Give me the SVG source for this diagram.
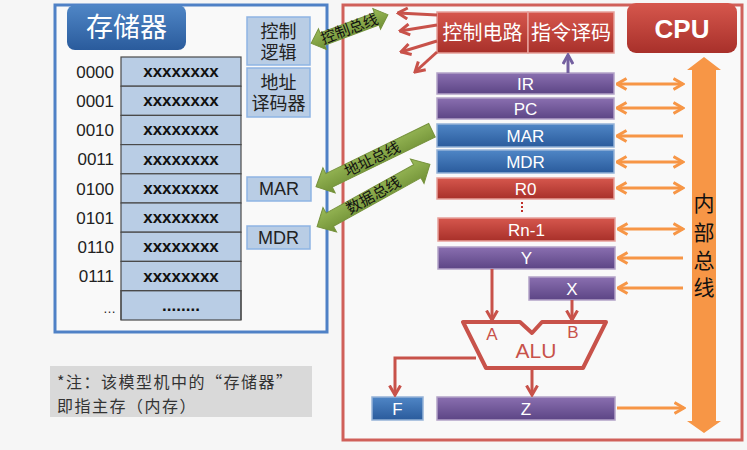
<svg xmlns="http://www.w3.org/2000/svg" width="747" height="450" viewBox="0 0 747 450">
<defs>
<linearGradient id="gBlue" x1="0" y1="0" x2="0" y2="1"><stop offset="0" stop-color="#4f86c6"/><stop offset="1" stop-color="#2a5b9c"/></linearGradient>
<linearGradient id="gPurple" x1="0" y1="0" x2="0" y2="1"><stop offset="0" stop-color="#8a6fb0"/><stop offset="1" stop-color="#5c4585"/></linearGradient>
<linearGradient id="gRed" x1="0" y1="0" x2="0" y2="1"><stop offset="0" stop-color="#d6574d"/><stop offset="1" stop-color="#a8302a"/></linearGradient>
<linearGradient id="gGreen" x1="0" y1="0" x2="0" y2="1"><stop offset="0" stop-color="#9bbb59"/><stop offset="1" stop-color="#6f8f35"/></linearGradient>
<marker id="mO" viewBox="0 0 12 14" markerUnits="userSpaceOnUse" markerWidth="12" markerHeight="14" refX="10.5" refY="7" orient="auto-start-reverse"><path d="M1,1.5 L10.5,7 L1,12.5" fill="none" stroke="#f79646" stroke-width="3"/></marker>
<marker id="mR" viewBox="0 0 12 14" markerUnits="userSpaceOnUse" markerWidth="12" markerHeight="14" refX="10.5" refY="7" orient="auto-start-reverse"><path d="M1,1.5 L10.5,7 L1,12.5" fill="none" stroke="#c8524a" stroke-width="3"/></marker>
<marker id="mP" viewBox="0 0 12 12" markerUnits="userSpaceOnUse" markerWidth="12" markerHeight="12" refX="10" refY="6" orient="auto"><path d="M1,1 L10,6 L1,11" fill="none" stroke="#7460a0" stroke-width="3"/></marker>
<style>
text{font-family:"Liberation Sans","Noto Sans CJK SC",sans-serif;}
.cell{fill:#b9cde5;stroke:#4a4a4a;stroke-width:1.2;}
.addr{font-size:17px;fill:#222;text-anchor:end;}
.xx{font-size:17px;font-weight:bold;fill:#111;text-anchor:middle;}
.lbox{fill:#b9cde5;stroke:#8eb4e3;stroke-width:1.5;}
.ltxt{font-size:18px;fill:#222;text-anchor:middle;}
.reg{stroke-width:1.5;}
.rp{fill:url(#gPurple);stroke:#b3a2c7;}
.rb{fill:url(#gBlue);stroke:#95b3d7;}
.rr{fill:url(#gRed);stroke:#e6a09a;}
.rt{font-size:17px;fill:#fff;text-anchor:middle;}
.rt20{font-size:20px;fill:#fff;text-anchor:middle;}
.oa{stroke:#f79646;stroke-width:3;fill:none;}
.ra{stroke:#c8524a;stroke-width:3;fill:none;}
.gb{fill:url(#gGreen);stroke:#76923c;stroke-width:1;}
.gt{font-size:15px;fill:#111;text-anchor:middle;}
.nt{font-family:"Noto Sans CJK SC",sans-serif;font-size:16px;letter-spacing:1.5px;fill:#333;}
.bus{font-size:21px;fill:#111;text-anchor:middle;}
</style>
</defs>
<rect width="747" height="450" fill="#f6f6f6"/>

<g id="memory">
<rect x="55" y="5" width="272" height="327" fill="#f9f9f9" stroke="#4f81c6" stroke-width="3"/>
<g id="memTitle"><rect x="67" y="5" width="119" height="45" rx="8" fill="url(#gBlue)"/><text x="126.5" y="37" font-size="27" fill="#fff" text-anchor="middle">存储器</text></g>
<g id="cells">
<rect class="cell" x="121" y="57" width="120" height="29.2"/>
<rect class="cell" x="121" y="86.2" width="120" height="29.2"/>
<rect class="cell" x="121" y="115.4" width="120" height="29.2"/>
<rect class="cell" x="121" y="144.6" width="120" height="29.2"/>
<rect class="cell" x="121" y="173.8" width="120" height="29.2"/>
<rect class="cell" x="121" y="203" width="120" height="29.2"/>
<rect class="cell" x="121" y="232.2" width="120" height="29.2"/>
<rect class="cell" x="121" y="261.4" width="120" height="29.2"/>
<rect class="cell" x="121" y="290.6" width="120" height="29.4" stroke="none"/>
<line x1="121" y1="290.6" x2="121" y2="320" stroke="#4a4a4a" stroke-width="1.2"/>
<line x1="241" y1="290.6" x2="241" y2="320" stroke="#4a4a4a" stroke-width="1.2"/>
<line x1="121" y1="290.6" x2="241" y2="290.6" stroke="#4a4a4a" stroke-width="1.2"/>
<text class="xx" x="181" y="77">xxxxxxxx</text>
<text class="xx" x="181" y="106">xxxxxxxx</text>
<text class="xx" x="181" y="135">xxxxxxxx</text>
<text class="xx" x="181" y="165">xxxxxxxx</text>
<text class="xx" x="181" y="194">xxxxxxxx</text>
<text class="xx" x="181" y="223">xxxxxxxx</text>
<text class="xx" x="181" y="252">xxxxxxxx</text>
<text class="xx" x="181" y="282">xxxxxxxx</text>
<text class="xx" x="181" y="311">........</text>
<text class="addr" x="114" y="78">0000</text>
<text class="addr" x="114" y="107">0001</text>
<text class="addr" x="114" y="136">0010</text>
<text class="addr" x="114" y="165">0011</text>
<text class="addr" x="114" y="195">0100</text>
<text class="addr" x="114" y="224">0101</text>
<text class="addr" x="114" y="253">0110</text>
<text class="addr" x="114" y="282">0111</text>
<text class="addr" x="116" y="313" style="font-size:13px">…</text>
</g>
<g id="ctrlLogic"><rect class="lbox" x="247" y="17" width="63" height="48"/><text class="ltxt" x="278.5" y="38">控制</text><text class="ltxt" x="278.5" y="59">逻辑</text></g>
<g id="addrDecoder"><rect class="lbox" x="247" y="68" width="63" height="49"/><text class="ltxt" x="278.5" y="89">地址</text><text class="ltxt" x="278.5" y="110">译码器</text></g>
<g id="memMAR"><rect class="lbox" x="247" y="177" width="64" height="24"/><text class="ltxt" x="279" y="195">MAR</text></g>
<g id="memMDR"><rect class="lbox" x="247" y="226" width="63" height="23"/><text class="ltxt" x="278.5" y="244">MDR</text></g>
</g>

<g id="note"><rect x="50" y="366" width="262" height="51" fill="#d9d9d9"/><text class="nt" x="57" y="388">*注：该模型机中的“存储器”</text><text class="nt" x="57" y="412">即指主存（内存）</text></g>

<g id="cpu">
<rect x="343" y="5" width="399" height="435" fill="#f9f9f9" stroke="#d0605a" stroke-width="3"/>
<g id="cpuTitle"><rect x="627" y="3" width="110" height="50" rx="9" fill="url(#gRed)"/><text x="682" y="38" font-size="26" font-weight="bold" fill="#fff" text-anchor="middle">CPU</text></g>
<g id="ctrlCircuit"><rect class="reg rr" x="437" y="12" width="91" height="41"/><text class="rt20" x="482.5" y="40">控制电路</text></g>
<g id="instDecode"><rect class="reg rr" x="528" y="12" width="86" height="41"/><text class="rt20" x="571" y="40">指令译码</text></g>
<g id="IR"><rect class="reg rp" x="437" y="73" width="177" height="21"/><text class="rt" x="525.5" y="90">IR</text></g>
<g id="PC"><rect class="reg rp" x="437" y="98" width="177" height="21"/><text class="rt" x="525.5" y="115">PC</text></g>
<g id="MAR"><rect class="reg rb" x="437" y="124" width="177" height="23"/><text class="rt" x="525.5" y="142">MAR</text></g>
<g id="MDR"><rect class="reg rb" x="437" y="150" width="177" height="23"/><text class="rt" x="525.5" y="168">MDR</text></g>
<g id="R0"><rect class="reg rr" x="437" y="178" width="177" height="21"/><text class="rt" x="525.5" y="195">R0</text></g>
<line x1="522" y1="202" x2="522" y2="214" stroke="#c0302a" stroke-width="2" stroke-dasharray="2,2"/>
<g id="Rn1"><rect class="reg rr" x="438" y="218" width="177" height="23"/><text class="rt" x="526.5" y="236">Rn-1</text></g>
<g id="Y"><rect class="reg rp" x="438" y="247" width="177" height="22"/><text class="rt" x="526.5" y="264">Y</text></g>
<g id="X"><rect class="reg rp" x="529" y="277" width="86" height="23"/><text class="rt" x="572" y="295">X</text></g>
<g id="ALU"><path d="M463,322 L520,322 L532,333 L542,322 L606,322 L583,368 L486,368 Z" fill="none" stroke="#c8524a" stroke-width="4" stroke-linejoin="round"/>
<text x="492" y="340" font-size="17" fill="#c8524a" text-anchor="middle">A</text>
<text x="573" y="338" font-size="17" fill="#c8524a" text-anchor="middle">B</text>
<text x="536" y="358" font-size="21" fill="#c8524a" text-anchor="middle">ALU</text></g>
<g id="F"><rect class="reg rb" x="372" y="397" width="51" height="23"/><text class="rt" x="397.5" y="415">F</text></g>
<g id="Z"><rect class="reg rp" x="437" y="397" width="178" height="23"/><text class="rt" x="526" y="415">Z</text></g>
<g id="internalBus"><polygon points="704,57 721,70 716,70 716,421 721,421 704,433 687,421 692,421 692,70 687,70" fill="#f79646"/>
<text class="bus" x="704" y="211">内</text>
<text class="bus" x="704" y="240">部</text>
<text class="bus" x="704" y="268">总</text>
<text class="bus" x="704" y="295">线</text></g>
</g>

<g id="connectors">
<line class="oa" x1="617" y1="84" x2="683" y2="84" marker-start="url(#mO)" marker-end="url(#mO)"/>
<line class="oa" x1="617" y1="108" x2="683" y2="108" marker-start="url(#mO)" marker-end="url(#mO)"/>
<line class="oa" x1="683" y1="136" x2="617" y2="136" marker-end="url(#mO)"/>
<line class="oa" x1="617" y1="162" x2="683" y2="162" marker-start="url(#mO)" marker-end="url(#mO)"/>
<line class="oa" x1="617" y1="188" x2="683" y2="188" marker-start="url(#mO)" marker-end="url(#mO)"/>
<line class="oa" x1="618" y1="229" x2="683" y2="229" marker-start="url(#mO)" marker-end="url(#mO)"/>
<line class="oa" x1="683" y1="258" x2="618" y2="258" marker-end="url(#mO)"/>
<line class="oa" x1="683" y1="288" x2="618" y2="288" marker-end="url(#mO)"/>
<line class="oa" x1="617" y1="408" x2="684" y2="408" marker-end="url(#mO)"/>
<line x1="568" y1="73" x2="568" y2="55" stroke="#7460a0" stroke-width="3" marker-end="url(#mP)"/>
<line class="ra" x1="437" y1="15" x2="398" y2="13" marker-end="url(#mR)"/>
<line class="ra" x1="437" y1="25" x2="400" y2="31" marker-end="url(#mR)"/>
<line class="ra" x1="437" y1="41" x2="401" y2="52" marker-end="url(#mR)"/>
<line class="ra" x1="437" y1="52" x2="415" y2="72" marker-end="url(#mR)"/>
<line class="ra" x1="492" y1="269" x2="492" y2="320" marker-end="url(#mR)"/>
<line class="ra" x1="572" y1="300" x2="572" y2="320" marker-end="url(#mR)"/>
<line class="ra" x1="532" y1="368" x2="532" y2="395" marker-end="url(#mR)"/>
<polyline class="ra" points="476,358 395,358 395,395" marker-end="url(#mR)"/>
<g id="ctrlBus" transform="translate(349.5,29) rotate(-20.5)"><polygon class="gb" points="-41,0 -29,-11 -29,-6.5 29,-6.5 29,-11 41,0 29,11 29,6.5 -29,6.5 -29,11"/><text class="gt" x="0" y="5">控制总线</text></g>
<g id="addrBus" transform="translate(374,158.5) rotate(-26)"><polygon class="gb" points="-64.5,0 -50,-14 -50,-7.5 64.5,-7.5 64.5,7.5 -50,7.5 -50,14"/><text class="gt" x="-2" y="5">地址总线</text></g>
<g id="dataBus" transform="translate(373.5,195.5) rotate(-29)"><polygon class="gb" points="-64.5,0 -50,-14 -50,-7.5 50,-7.5 50,-14 64.5,0 50,14 50,7.5 -50,7.5 -50,14"/><text class="gt" x="0" y="5">数据总线</text></g>
</g>
</svg>
